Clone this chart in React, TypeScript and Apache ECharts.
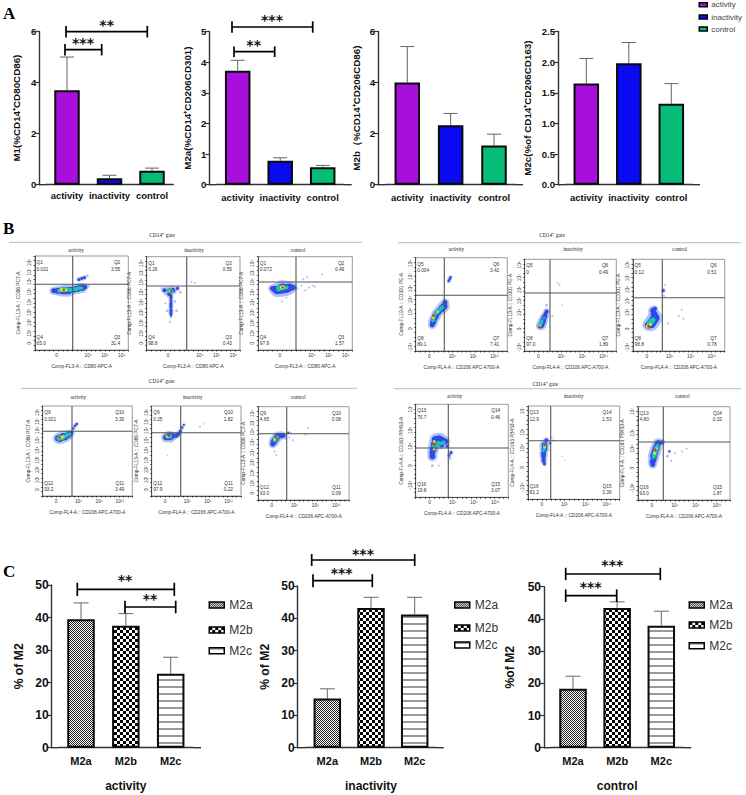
import React, { useEffect, useRef } from "react";
import * as echarts from "echarts";

// ---------- Panel A values ----------
const groupNames = ["activity", "inactivity", "control"];
const m1Values = [3.7, 0.25, 0.55];
const m1Upper = [5.0, 0.37, 0.65];
const m2aValues = [3.72, 0.78, 0.57];
const m2aUpper = [4.06, 0.88, 0.63];
const m2bValues = [4.0, 2.33, 1.54];
const m2bUpper = [5.41, 2.79, 1.98];
const m2cValues = [1.65, 1.98, 1.32];
const m2cUpper = [2.06, 2.32, 1.65];

// ---------- Panel C values ----------
const subsetNames = ["M2a", "M2b", "M2c"];
const activityValues = [39.5, 37.5, 22.7];
const activityUpper = [44.5, 41.2, 27.8];
const inactivityValues = [15.2, 43.2, 41.2];
const inactivityUpper = [18.2, 46.5, 46.5];
const controlValues = [18.3, 43.4, 37.9];
const controlUpper = [22.2, 45.3, 42.4];

// ---------- Panel B flow cytometry: [x%, y%, density level, dot size] ----------
const flowA: number[][] = [[17,63,0,3],[22,60,0,3],[30,60,0,3],[40,62,0,3],[52,64,0,3],[58,68,0,2],[47,75,1,3],[50,76,1,3],[53,77,1,3],[56,79,0,3],[20,63,1,5],[23,63,1,5],[25,63,1,6],[28,63,1,6],[30,63,1,7],[33,63,1,7],[36,63,1,7],[38,64,1,6],[41,64,1,6],[44,65,1,6],[46,65,1,6],[48,66,1,6],[51,66,1,6],[54,67,1,4],[26,63,2,4],[28,64,2,4],[30,64,2,5],[33,64,2,5],[35,64,2,4],[38,64,2,4],[40,64,2,4],[43,65,2,4],[45,65,2,4],[48,66,2,4],[50,66,2,3],[28,64,3,3],[29,64,3,3],[31,64,3,3],[33,64,3,3],[31,64,4,2.5]];
const flowB: number[][] = [[16,66,0,2],[20,60,0,3],[36,62,0,3],[30,52,0,3],[20,50,0,2],[26,35,0,2],[22,42,0,3],[32,42,0,3],[25,30,0,2],[48,73,0,2],[52,72,0,2],[19,64,1,4],[24,60,1,4],[28,64,1,5],[33,66,1,3],[26,58,1,3],[26,56,1,3],[26,53,1,3],[26,50,1,3],[26,48,1,3],[26,46,1,3],[26,43,1,3],[26,41,1,3],[26,39,1,3],[26,37,1,2],[24,64,2,5],[27,63,2,4],[25,63,3,3],[26,63,4,2.5]];
const flowC: number[][] = [[42,66,0,2],[46,69,0,2],[50,64,0,2],[54,67,0,2],[58,69,0,2],[60,68,0,2],[48,76,0,2],[52,78,0,2],[68,81,0,2],[25,52,0,2],[30,56,0,2],[15,66,1,5],[18,65,1,7],[20,64,1,8],[23,65,1,9],[26,66,1,10],[30,66,1,9],[33,67,1,8],[36,67,1,6],[38,67,1,4],[22,66,2,6],[26,67,2,6],[30,67,2,4],[25,67,3,4],[27,67,3,3],[26,67,4,2.5]];
const flowD: number[][] = [[15,62,0,3],[22,60,0,3],[30,66,0,2],[17,64,1,6],[19,64,1,7],[21,65,1,7],[23,66,1,7],[25,66,1,7],[27,67,1,6],[29,68,1,6],[32,70,1,4],[34,75,1,2.5],[36,78,1,2.5],[38,80,1,2.5],[18,64,2,5],[20,65,2,5],[22,65,2,5],[24,66,2,4],[26,67,2,4],[28,68,2,4],[30,69,2,3],[19,65,3,3],[21,65,3,3],[23,66,3,2.5],[19,65,4,2.5]];
const flowE: number[][] = [[54,77,0,2],[58,80,0,1.5],[18,45,0,1.5],[22,60,0,2],[16,65,1,6],[18,66,1,6],[20,66,1,7],[22,66,1,6],[24,67,1,5],[27,67,1,4],[29,68,1,4],[31,70,1,3],[32,72,1,3],[34,76,1,2.5],[36,79,1,2],[17,66,2,4],[19,66,2,4],[21,66,2,4],[18,66,3,3],[19,67,4,2.5]];
const flowF: number[][] = [[34,67,0,2],[38,64,0,2],[36,72,0,2],[52,70,0,2],[55,77,0,2],[18,52,0,2],[20,48,0,2],[30,66,0,3],[16,60,1,5],[17,62,1,6],[18,64,1,6],[20,66,1,6],[21,68,1,6],[24,69,1,5],[26,69,1,5],[28,69,1,4],[33,72,1,2],[18,64,2,4],[19,65,2,4],[21,67,2,4],[18,65,3,3],[20,66,4,2]];
const flowG: number[][] = [[22,30,0,3],[30,42,0,3],[36,75,1,2.5],[37,77,1,2.5],[38,79,1,2.5],[18,28,1,5],[19,31,1,6],[20,34,1,6],[22,37,1,6],[23,40,1,6],[25,42,1,6],[27,44,1,6],[29,46,1,7],[31,48,1,7],[32,52,1,5],[19,33,2,4],[20,36,2,4],[22,40,2,4],[24,42,2,4],[26,44,2,4],[28,46,2,4],[30,47,2,4],[19,36,3,3],[24,42,3,2.5],[19,38,4,2.5]];
const flowH: number[][] = [[36,74,0,2],[38,72,0,2],[41,50,0,1.5],[24,50,0,3],[30,38,0,2],[18,28,1,6],[19,30,1,6],[20,33,1,6],[21,36,1,5],[22,38,1,5],[23,41,1,4],[24,43,1,4],[16,27,2,4],[17,29,2,4],[18,31,2,4],[19,33,2,3],[21,36,2,2.5],[16,27,3,3],[16,26,4,2.5]];
const flowI: number[][] = [[33,66,1,3],[34,60,0,2],[53,45,0,2],[50,38,0,2],[55,35,0,2],[35,72,0,2],[38,30,0,2],[32,48,0,2],[16,28,1,6],[18,29,1,8],[20,30,1,9],[22,33,1,9],[24,36,1,9],[23,40,1,7],[22,44,1,6],[24,46,1,4],[18,30,2,6],[20,32,2,6],[22,34,2,5],[16,27,3,4],[19,29,3,3],[17,27,4,3]];
const flowJ: number[][] = [[18,34,0,3],[25,34,0,2],[37,42,0,3],[38,48,1,3],[36,45,1,2.5],[18,44,1,6],[18,48,1,6],[19,52,1,7],[20,57,1,7],[21,62,1,7],[24,62,1,8],[26,62,1,8],[29,61,1,7],[32,60,1,6],[34,55,1,3],[23,58,1,7],[28,57,1,6],[20,56,2,5],[23,57,2,5],[25,58,2,5],[28,58,2,4],[30,59,2,4],[20,52,3,3],[20,60,3,3],[20,57,4,3]];
const flowK: number[][] = [[37,46,0,1.5],[40,42,0,1.5],[26,66,0,2],[28,63,0,2],[18,38,1,3],[17,41,1,4],[17,44,1,4],[17,47,1,5],[17,50,1,5],[18,54,1,6],[18,58,1,6],[20,63,1,4],[24,60,1,2],[17,52,2,3],[18,55,2,4],[18,58,2,4],[18,56,3,2.5],[18,58,4,2]];
const flowL: number[][] = [[32,47,0,3],[36,42,0,2],[40,50,0,2],[48,52,0,2],[53,55,0,2],[34,52,1,2],[16,38,1,5],[16,41,1,6],[17,44,1,6],[17,47,1,7],[18,50,1,7],[19,53,1,7],[20,56,1,7],[21,59,1,6],[22,61,1,6],[26,62,1,4],[17,46,2,4],[18,49,2,5],[19,52,2,5],[20,55,2,5],[21,58,2,4],[18,50,3,3],[20,55,3,3],[19,54,4,2.5]];

const lowLogX = [{ label: "0", at: 23 }, { label: "10⁴", at: 57 }, { label: "10⁵", at: 75 }, { label: "10⁶", at: 93 }];
const wideLogX = [{ label: "0", at: 15 }, { label: "10⁵", at: 40 }, { label: "10⁸", at: 63 }, { label: "10¹¹", at: 86 }];
const logYEight = [{ label: "10⁸", at: 93 }, { label: "10⁷", at: 83 }, { label: "10⁶", at: 73 }, { label: "10⁵", at: 62 }, { label: "10⁴", at: 51 }, { label: "10³", at: 40 }, { label: "10²", at: 29 }, { label: "10¹", at: 18 }, { label: "0", at: 7 }];
const logYSeven = [{ label: "10⁸", at: 94 }, { label: "10⁷", at: 80 }, { label: "10⁶", at: 67 }, { label: "10⁵", at: 55 }, { label: "10⁴", at: 42 }, { label: "0", at: 24 }, { label: "-10⁴", at: 4 }];
const logYFive = [{ label: "10⁷", at: 95 }, { label: "10⁶", at: 72 }, { label: "10⁴", at: 55 }, { label: "0", at: 34 }, { label: "-10⁴", at: 13 }];

const densityColors = ["#b9c2f4", "#2f4be6", "#18c8b0", "#dfe324", "#e8281e"];
const fontSans = '"Liberation Sans", Arial, sans-serif';
const fontSerif = '"Liberation Serif", "Times New Roman", serif';

const pal: Record<string, string> = { activity: "#a80fdc", inactivity: "#0a0af0", control: "#05bd76" };

function makeCanvas(w: number, h: number, draw: (c: CanvasRenderingContext2D) => void) {
  const cv = document.createElement("canvas");
  cv.width = w;
  cv.height = h;
  const c = cv.getContext("2d")!;
  c.fillStyle = "#fff";
  c.fillRect(0, 0, w, h);
  draw(c);
  return cv;
}

export default function App() {
  const ref = useRef<HTMLDivElement>(null);
  useEffect(() => {
    const chart = echarts.init(ref.current!, undefined, { renderer: "svg" });

    const patternA = makeCanvas(2, 2, (c) => {
      c.fillStyle = "#222";
      c.fillRect(0, 0, 1, 1);
      c.fillRect(1, 1, 1, 1);
    });
    const patternB = makeCanvas(6, 6, (c) => {
      c.fillStyle = "#000";
      c.fillRect(0, 0, 3, 3);
      c.fillRect(3, 3, 3, 3);
    });
    const patternC = makeCanvas(4, 7, (c) => {
      c.fillStyle = "#999";
      c.fillRect(0, 0, 4, 2);
    });
    const fills: Record<string, any> = {
      ...pal,
      M2a: { image: patternA, repeat: "repeat" },
      M2b: { image: patternB, repeat: "repeat" },
      M2c: { image: patternC, repeat: "repeat" },
    };

    const grids: any[] = [];
    const xAxes: any[] = [];
    const yAxes: any[] = [];
    const series: any[] = [];
    const legends: any[] = [];
    const el: any[] = [];

    const line = (x1: number, y1: number, x2: number, y2: number, stroke = "#000", lineWidth = 1.7) =>
      el.push({ type: "line", silent: true, z: 50, shape: { x1, y1, x2, y2 }, style: { stroke, lineWidth } });
    const text = (t: string, x: number, y: number, font: string, fill = "#111", textAlign = "center") =>
      el.push({ type: "text", silent: true, z: 50, style: { text: t, x, y, font, fill, textAlign, textVerticalAlign: "middle" } });

    const bracket = (x1: number, x2: number, y: number, half: number, stars: string, sx: number, sy: number) => {
      line(x1, y, x2, y);
      line(x1, y - half, x1, y + half);
      line(x2, y - half, x2, y + half);
      text(stars, sx, sy + 2, `bold 14px "DejaVu Sans"`, "#111");
    };

    const barPanel = (o: any) => {
      const i = grids.length;
      const band = (o.centers[2] - o.centers[0]) / 2;
      const gl = o.centers[0] - band / 2;
      const gr = o.centers[2] + band / 2;
      grids.push({ left: gl, width: gr - gl, top: o.top, height: o.bottom - o.top });
      xAxes.push({
        gridIndex: i,
        type: "category",
        data: o.cats,
        axisLine: { lineStyle: { color: "#333", width: 1.4 } },
        axisTick: { alignWithLabel: true, length: 4, lineStyle: { color: "#333", width: 1.2 } },
        axisLabel: { color: "#111", fontFamily: fontSans, fontWeight: "bold", fontSize: o.catFont, margin: o.catMargin, interval: 0 },
        name: o.xName,
        nameLocation: "middle",
        nameGap: 32,
        nameTextStyle: { color: "#111", fontFamily: fontSans, fontWeight: "bold", fontSize: 12 },
      });
      yAxes.push({
        gridIndex: i,
        type: "value",
        min: 0,
        max: o.max,
        interval: o.interval,
        offset: gl - o.axisX,
        splitLine: { show: false },
        axisLine: { show: true, lineStyle: { color: "#333", width: 1.4 } },
        axisTick: { show: true, length: 4, lineStyle: { color: "#333", width: 1.2 } },
        axisLabel: {
          color: "#111",
          fontFamily: fontSans,
          fontWeight: "bold",
          fontSize: o.tickFont,
          margin: 3,
          formatter: o.fixed ? (v: number) => v.toFixed(1) : undefined,
        },
        name: o.yName,
        nameLocation: "middle",
        nameGap: o.axisX - o.nameX - o.nameFont / 2,
        nameTextStyle: { color: "#111", fontFamily: fontSans, fontWeight: "bold", fontSize: o.nameFont },
      });
      o.cats.forEach((name: string, k: number) => {
        series.push({
          type: "bar",
          name,
          xAxisIndex: i,
          yAxisIndex: i,
          barWidth: o.barWidth,
          barGap: "-100%",
          data: o.cats.map((_: string, m: number) => (m === k ? o.values[m] : null)),
          itemStyle: { color: fills[name], borderColor: "#0a0a0a", borderWidth: 2 },
        });
      });
      series.push({
        type: "custom",
        name: "error",
        xAxisIndex: i,
        yAxisIndex: i,
        z: 1,
        encode: { x: 0, y: [1, 2] },
        data: o.cats.map((c: string, m: number) => [c, o.values[m], o.upper[m]]),
        renderItem: (_: any, api: any) => {
          const base = api.coord([api.value(0), api.value(1)]);
          const up = api.coord([api.value(0), api.value(2)]);
          const st = { stroke: "#666", lineWidth: 1 };
          return {
            type: "group",
            children: [
              { type: "line", shape: { x1: base[0], y1: base[1], x2: up[0], y2: up[1] }, style: st },
              { type: "line", shape: { x1: up[0] - o.cap, y1: up[1], x2: up[0] + o.cap, y2: up[1] }, style: st },
            ],
          };
        },
      });
      line(o.axisX, o.bottom, gl, o.bottom, "#333", 1.4);
      line(gr, o.bottom, o.xEnd, o.bottom, "#333", 1.4);
    };

    const aCommon = { cats: groupNames, top: 31.5, bottom: 184.7, catFont: 9.5, tickFont: 9.5, nameFont: 9.8, barWidth: 25.5, cap: 7, catMargin: 6 };
    barPanel({ ...aCommon, axisX: 39.3, xEnd: 173.5, centers: [67, 109.3, 152], max: 6, interval: 2, values: m1Values, upper: m1Upper, yName: "M1(%CD14⁺CD80CD86)", nameX: 17 });
    barPanel({ ...aCommon, axisX: 209.3, xEnd: 351.7, centers: [237.7, 280, 322.7], max: 5, interval: 1, values: m2aValues, upper: m2aUpper, yName: "M2a(%CD14⁺CD206CD301)", nameX: 188, catMargin: 8 });
    barPanel({ ...aCommon, axisX: 378, xEnd: 523, centers: [407.3, 450.7, 494], max: 6, interval: 2, values: m2bValues, upper: m2bUpper, yName: "M2b（%CD14⁺CD206CD86)", nameX: 357, catMargin: 8 });
    barPanel({ ...aCommon, axisX: 558, xEnd: 700, centers: [586.3, 628.7, 671.3], max: 2.5, interval: 0.5, fixed: true, values: m2cValues, upper: m2cUpper, yName: "M2c(%of CD14⁺CD206CD163)", nameX: 528, catMargin: 8 });

    const cCommon = { cats: subsetNames, bottom: 747.7, catFont: 11, tickFont: 12, nameFont: 12.2, barWidth: 27.5, cap: 7.5, catMargin: 8, max: 50, interval: 10 };
    barPanel({ ...cCommon, axisX: 51.7, xEnd: 201, top: 585, centers: [81, 126, 170.7], values: activityValues, upper: activityUpper, xName: "activity", yName: "% of M2", nameX: 19 });
    barPanel({ ...cCommon, axisX: 297.7, xEnd: 443.7, top: 586, centers: [327.3, 371, 414.7], values: inactivityValues, upper: inactivityUpper, xName: "inactivity", yName: "% of M2", nameX: 265 });
    barPanel({ ...cCommon, axisX: 544, xEnd: 691.3, top: 586.7, centers: [573, 617, 661.3], values: controlValues, upper: controlUpper, xName: "control", yName: "%of M2", nameX: 510 });

    // legends
    const legendItem = (name: string, left: number, top: number, w: number, h: number, font: number, color: string, gap: number) =>
      legends.push({
        data: [{ name, icon: "rect" }],
        left,
        top,
        orient: "vertical",
        padding: 0,
        selectedMode: false,
        itemWidth: w,
        itemHeight: h,
        itemGap: 0,
        itemStyle: { borderColor: "#000", borderWidth: 1.5 },
        textStyle: { fontFamily: fontSans, fontSize: font, color, padding: [0, 0, 0, gap] },
      });
    [5.7, 18, 30].forEach((y, k) => legendItem(groupNames[k], 698.5, y - 5, 8, 4, 8, "#444", -1));
    const cLegend = (x: number, ys: number[], gap: number) =>
      ys.forEach((y, k) => legendItem(subsetNames[k], x, y - 7, 15, 6, 12, "#333", gap));
    cLegend(208.5, [606, 631, 651.7], 0);
    cLegend(454, [606, 629, 646], 0);
    cLegend(688.5, [606, 626, 646.7], 0);

    // brackets and stars
    bracket(66, 147.3, 31.7, 5.8, "**", 106.7, 22.7);
    bracket(65, 101.7, 49.7, 5.7, "***", 83, 40.7);
    bracket(232, 312.7, 27, 5.7, "***", 272, 18.3);
    bracket(234, 274.7, 51.7, 5.3, "**", 253.7, 42.7);
    bracket(77.3, 174.3, 589.3, 6.6, "**", 125, 578.3);
    bracket(125, 175.7, 607, 6.3, "**", 150, 596.7);
    bracket(311.7, 414.7, 560, 6, "***", 363, 551.5);
    bracket(313, 372.3, 580.7, 6.5, "***", 341.7, 570.7);
    bracket(565.7, 660.3, 574, 6.2, "***", 612.3, 563.3);
    bracket(565.7, 616.7, 595.7, 6.3, "***", 590.7, 585.3);

    // panel letters
    text("A", 3, 13, `bold 17px ${fontSerif}`, "#000", "left");
    text("B", 3, 228, `bold 17px ${fontSerif}`, "#000", "left");
    text("C", 3, 571.5, `bold 17px ${fontSerif}`, "#000", "left");

    // flow plot sections
    const section = (label: string, cx: number, cy: number, lx1: number, lx2: number, ly: number, titles: number[], ty: number) => {
      text(label, cx, cy, `5.5px ${fontSerif}`, "#222");
      line(lx1, ly, lx2, ly, "#aaa", 0.8);
      groupNames.forEach((g, k) => text(g, titles[k], ty, `5.2px ${fontSerif}`, "#222"));
    };
    section("CD14⁺ gate", 162, 234.5, 9, 362, 242.3, [76, 194, 298], 250);
    section("CD14⁺ gate", 161.7, 380.7, 20.7, 357.3, 388.3, [78.3, 192.7, 298.3], 396.7);
    section("CD14⁺ gate", 552, 235, 398, 740.7, 242.7, [456.3, 573, 679.7], 249.3);
    section("CD14⁺ gate", 545.3, 384, 394, 741.3, 388.7, [454.7, 573.7, 682.3], 396);

    const flowPanel = (o: any) => {
      const i = grids.length;
      const [L, T, R, B] = o.box;
      grids.push({ left: L, top: T, width: R - L, height: B - T, show: true, borderColor: "#999", borderWidth: 1 });
      const axisBase = (ticks: any[]) => ({
        gridIndex: i,
        type: "value",
        min: 0,
        max: 100,
        interval: 5,
        splitLine: { show: false },
        axisLine: { show: true, onZero: false, lineStyle: { color: "#555", width: 1 } },
        axisTick: { show: true, length: 1.5, lineStyle: { color: "#111", width: 0.7 } },
        axisLabel: {
          customValues: ticks.map((t) => t.at),
          formatter: (v: number) => (ticks.find((t) => t.at === v) || { label: "" }).label,
          fontFamily: fontSans,
          fontSize: 4.8,
          color: "#333",
          margin: 3,
        },
        nameLocation: "middle",
        nameTextStyle: { fontFamily: fontSans, fontSize: 4.8, color: "#333" },
      });
      xAxes.push({ ...axisBase(o.xTicks), name: o.xName, nameGap: 14 });
      const ya: any = axisBase(o.yTicks);
      ya.axisLabel.rotate = 90;
      yAxes.push({ ...ya, name: o.yName, nameGap: L - o.yNameX - 2.4 });
      // light halo around the populated events, then the events by density
      series.push({
        type: "scatter",
        name: "halo",
        xAxisIndex: i,
        yAxisIndex: i,
        z: 1,
        data: o.points.filter((p: number[]) => p[2] >= 1),
        symbolSize: (v: number[]) => v[3] * 1.7,
        itemStyle: { color: "#aebcf5", opacity: 0.75 },
      });
      series.push({
        type: "scatter",
        name: "events",
        xAxisIndex: i,
        yAxisIndex: i,
        z: 2,
        data: o.points,
        symbolSize: (v: number[]) => v[3],
        itemStyle: { color: (p: any) => densityColors[p.value[2]], opacity: 1 },
      });
      line(o.gate[0], T, o.gate[0], B, "#555", 1.1);
      line(L, o.gate[1], R, o.gate[1], "#555", 1.1);
      const f = `4.8px ${fontSans}`;
      const [nTL, vTL, nTR, vTR, nBL, vBL, nBR, vBR] = o.quad;
      text(nTL, L + 1.5, T + 6.5, f, "#333", "left");
      text(vTL, L + 1.5, T + 13, f, "#333", "left");
      text(nTR, R - 8, T + 6.5, f, "#333", "right");
      text(vTR, R - 8, T + 13, f, "#333", "right");
      text(nBL, L + 1.5, B - 13, f, "#333", "left");
      text(vBL, L + 1.5, B - 6.5, f, "#333", "left");
      text(nBR, R - 8, B - 13, f, "#333", "right");
      text(vBR, R - 8, B - 6.5, f, "#333", "right");
    };

    const x80 = "Comp-FL3-A :: CD80 APC-A";
    const x206 = "Comp-FL4-A :: CD206 APC-A700-A";
    const y86 = "Comp-FL13-A :: CD86 PC7-A";
    const y301 = "Comp-FL10-A :: CD301 PE-A";
    const y163 = "Comp-FL4-A :: CD163 PB450-A";
    flowPanel({ box: [35, 256, 128.3, 350], gate: [72.7, 284.3], points: flowA, xTicks: lowLogX, yTicks: logYEight, xName: x80, yName: y86, yNameX: 19, quad: ["Q1", "0.021", "Q2", "3.55", "Q4", "65.0", "Q3", "31.4"] });
    flowPanel({ box: [146.7, 256.7, 240, 350], gate: [186.7, 286], points: flowB, xTicks: lowLogX, yTicks: logYEight, xName: x80, yName: y86, yNameX: 130, quad: ["Q1", "0.26", "Q2", "0.55", "Q4", "98.8", "Q3", "0.43"] });
    flowPanel({ box: [258.3, 256.7, 352.3, 350], gate: [296, 282], points: flowC, xTicks: lowLogX, yTicks: logYEight, xName: x80, yName: y86, yNameX: 241.7, quad: ["Q1", "0.072", "Q2", "0.49", "Q4", "97.9", "Q3", "1.57"] });
    flowPanel({ box: [42.7, 406, 132.3, 496], gate: [72, 431.3], points: flowD, xTicks: wideLogX, yTicks: logYEight, xName: x206, yName: y86, yNameX: 28.3, quad: ["Q9", "0.021", "Q10", "3.30", "Q12", "93.2", "Q11", "3.49"] });
    flowPanel({ box: [151.7, 406, 241, 496], gate: [180.7, 432.7], points: flowE, xTicks: wideLogX, yTicks: logYEight, xName: x206, yName: y86, yNameX: 136.7, quad: ["Q9", "0.25", "Q10", "1.82", "Q12", "97.9", "Q11", "0.22"] });
    flowPanel({ box: [258.3, 406.7, 349, 500], gate: [286.7, 433.7], points: flowF, xTicks: wideLogX, yTicks: logYEight, xName: x206, yName: y86, yNameX: 244, quad: ["Q9", "4.65", "Q10", "0.08", "Q12", "93.0", "Q11", "0.09"] });
    flowPanel({ box: [415.7, 257.7, 507.3, 351], gate: [444.3, 295.3], points: flowG, xTicks: wideLogX, yTicks: logYSeven, xName: x206, yName: y301, yNameX: 401.3, quad: ["Q5", "0.004", "Q6", "3.42", "Q8", "89.1", "Q7", "7.41"] });
    flowPanel({ box: [524.7, 259.3, 616.3, 351], gate: [550, 293], points: flowH, xTicks: wideLogX, yTicks: logYSeven, xName: x206, yName: y301, yNameX: 510.3, quad: ["Q5", "0", "Q6", "0.49", "Q8", "97.0", "Q7", "1.89"] });
    flowPanel({ box: [633, 259.3, 724.7, 351], gate: [662.3, 297.7], points: flowI, xTicks: wideLogX, yTicks: logYSeven, xName: x206, yName: y301, yNameX: 618.7, quad: ["Q5", "0.12", "Q6", "0.51", "Q8", "98.8", "Q7", "0.78"] });
    flowPanel({ box: [415.7, 404.3, 508.3, 497.3], gate: [448.3, 448], points: flowJ, xTicks: wideLogX, yTicks: logYFive, xName: x206, yName: y163, yNameX: 401.3, quad: ["Q13", "76.7", "Q14", "0.46", "Q16", "19.8", "Q15", "3.07"] });
    flowPanel({ box: [528, 406, 619.7, 499.3], gate: [550.7, 440.7], points: flowK, xTicks: wideLogX, yTicks: logYFive, xName: x206, yName: y163, yNameX: 512.3, quad: ["Q13", "12.9", "Q14", "1.53", "Q16", "82.2", "Q15", "3.36"] });
    flowPanel({ box: [638, 406.7, 730, 500], gate: [663.3, 442], points: flowL, xTicks: wideLogX, yTicks: logYFive, xName: x206, yName: y163, yNameX: 622.3, quad: ["Q13", "4.80", "Q14", "0.32", "Q16", "93.0", "Q15", "1.87"] });

    chart.setOption({
      animation: false,
      backgroundColor: "#fff",
      textStyle: { fontFamily: fontSans },
      legend: legends,
      grid: grids,
      xAxis: xAxes,
      yAxis: yAxes,
      series,
      graphic: { elements: el },
    });
    return () => chart.dispose();
  }, []);
  return <div ref={ref} style={{ position: "absolute", left: 0, top: 0, width: 746, height: 795 }} />;
}
